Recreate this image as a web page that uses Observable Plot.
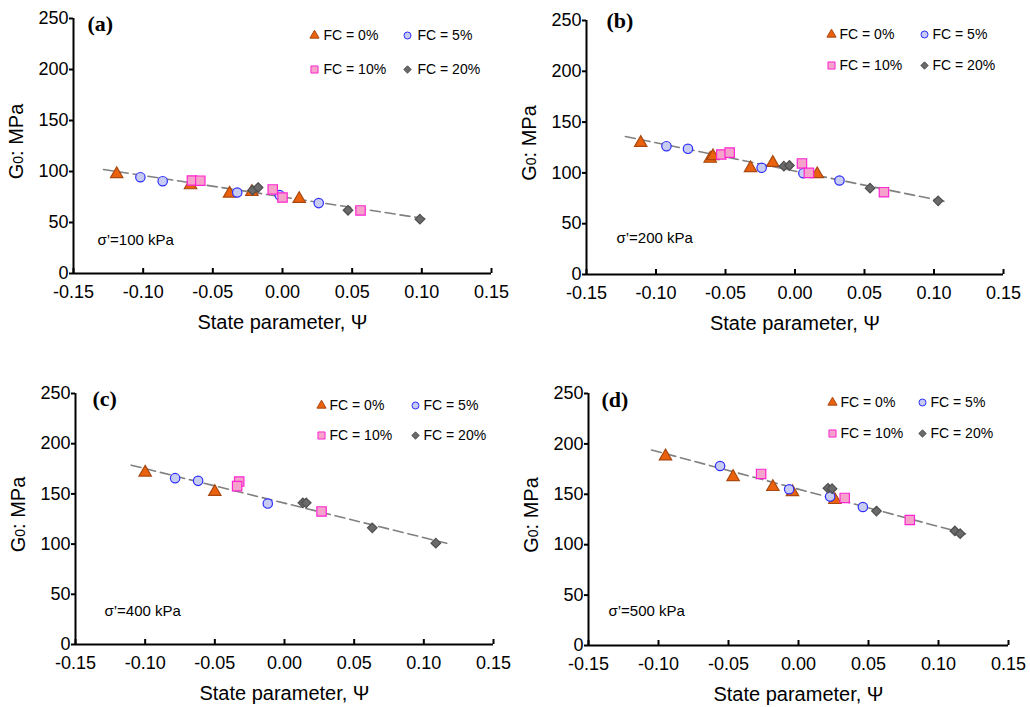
<!DOCTYPE html>
<html>
<head>
<meta charset="utf-8">
<script src="https://cdn.jsdelivr.net/npm/d3@7"></script>
<script src="https://cdn.jsdelivr.net/npm/@observablehq/plot@0.6"></script>
<style>
  body { margin: 0; background: #fff; }
  #wrap { position: relative; width: 1030px; height: 707px; background: #fff; font-family: "Liberation Sans", Arial, sans-serif; }
  .panel { position: absolute; }
</style>
</head>
<body>
<div id="wrap"></div>
<script>
// ---------- data (state parameter Ψ, G0 in MPa) ----------
const xTicks = [-0.15, -0.10, -0.05, 0.00, 0.05, 0.10, 0.15];
const yTicks = [0, 50, 100, 150, 200, 250];
const seriesNames = ["FC = 0%", "FC = 5%", "FC = 10%", "FC = 20%"];

// (a) σ'=100 kPa
const a_FC0 = [[-0.119, 97.5], [-0.066, 86.6], [-0.038, 78.4], [-0.022, 80.0], [0.012, 73.2]];
const a_FC5 = [[-0.102, 94.4], [-0.086, 90.5], [-0.0325, 79.4], [-0.002, 76.8], [0.026, 69.0]];
const a_FC10 = [[-0.065, 91.2], [-0.059, 91.0], [-0.007, 82.4], [0.000, 74.5], [0.056, 61.8]];
const a_FC20 = [[-0.0215, 81.7], [-0.0175, 84.3], [0.047, 62.0], [0.0986, 53.3]];
const a_fit = [[-0.1285, 102.0], [0.1045, 53.3]];

// (b) σ'=200 kPa
const b_FC0 = [[-0.111, 129.6], [-0.061, 114.0], [-0.059, 116.5], [-0.032, 104.7], [-0.016, 110.0], [0.016, 98.8]];
const b_FC5 = [[-0.0925, 126.3], [-0.077, 123.7], [-0.024, 105.0], [0.006, 99.7], [0.032, 92.5]];
const b_FC10 = [[-0.053, 118.1], [-0.047, 120.0], [0.005, 109.3], [0.010, 100.0], [0.064, 81.0]];
const b_FC20 = [[-0.008, 106.6], [-0.004, 107.3], [0.054, 85.0], [0.103, 72.5]];
const b_fit = [[-0.122, 135.8], [0.109, 71.5]];

// (c) σ'=400 kPa
const c_FC0 = [[-0.100, 171.3], [-0.050, 152.0]];
const c_FC5 = [[-0.0785, 165.7], [-0.062, 163.0], [-0.012, 140.4]];
const c_FC10 = [[-0.0325, 162.3], [-0.034, 157.7], [0.0266, 132.5]];
const c_FC20 = [[0.0132, 141.1], [0.0156, 141.1], [0.063, 116.2], [0.1086, 100.9]];
const c_fit = [[-0.110, 178.6], [0.119, 99.9]];

// (d) σ'=500 kPa
const d_FC0 = [[-0.095, 187.7], [-0.0467, 167.2], [-0.0183, 157.3], [-0.0043, 152.3], [0.026, 144.4]];
const d_FC5 = [[-0.056, 178.1], [-0.0067, 155.0], [0.0226, 147.7], [0.046, 137.4]];
const d_FC10 = [[-0.0267, 170.2], [0.033, 146.4], [0.0795, 124.5]];
const d_FC20 = [[0.021, 156.0], [0.024, 155.6], [0.0557, 133.4], [0.1117, 113.6], [0.1155, 110.9]];
const d_fit = [[-0.105, 194.0], [0.122, 109.9]];

const panelLabels = ["(a)", "(b)", "(c)", "(d)"];
const stressLabels = ["σ’=100 kPa", "σ’=200 kPa", "σ’=400 kPa", "σ’=500 kPa"];

// ---------- styles ----------
const styles = [
  {symbol: "triangle", fill: "#ea620e", stroke: "#a9470f", r: 4.6, lr: 3.4},
  {symbol: "circle", fill: "#c8ccf2", stroke: "#2d2dff", r: 4.7, lr: 3.5},
  {symbol: "square", fill: "#f5a3cb", stroke: "#ff25d2", r: 5.3, lr: 4.0},
  {symbol: "diamond2", fill: "#6a6a6a", stroke: "#4e4e4e", r: 4.3, lr: 3.3}
];

// ---------- layout ----------
const layout = [
  {left: 0,   top: 0,   ml: 73, mt: 18, pw: 418, ph: 255, leg: [241, 17, 334, 51, 250, 344], lab: [14, 5], sl: [24, 222]},
  {left: 515, top: 0,   ml: 71, mt: 20, pw: 417, ph: 254, leg: [245, 14, 338, 45, 253, 346], lab: [20, 0], sl: [30, 218]},
  {left: 0,   top: 375, ml: 75, mt: 18, pw: 418, ph: 251, leg: [246, 12, 340, 42, 254, 348], lab: [17, 5], sl: [29, 218]},
  {left: 515, top: 375, ml: 73, mt: 18, pw: 420, ph: 252, leg: [244, 9, 334, 40, 252, 342], lab: [13, 6], sl: [20, 218]}
];
const panelData = [
  [a_FC0, a_FC5, a_FC10, a_FC20, a_fit],
  [b_FC0, b_FC5, b_FC10, b_FC20, b_fit],
  [c_FC0, c_FC5, c_FC10, c_FC20, c_fit],
  [d_FC0, d_FC5, d_FC10, d_FC20, d_fit]
];

const FONT = "Liberation Sans, Arial, Helvetica, sans-serif";
const wrap = document.getElementById("wrap");

layout.forEach((L, i) => {
  const series = panelData[i].slice(0, 4);
  const fit = panelData[i][4];
  const mb = 72;
  const width = 515;
  const mr = width - L.ml - L.pw;
  const height = L.mt + L.ph + mb;
  const [ldx1, ldy1, ldx2, ldy2, tdx1, tdx2] = L.leg;

  const legendMarks = [];
  series.forEach((_, k) => {
    const s = styles[k];
    const mdx = (k % 2 === 0) ? ldx1 : ldx2;
    const tdx = (k % 2 === 0) ? tdx1 : tdx2;
    const mdy = (k < 2) ? ldy1 : ldy2;
    legendMarks.push(Plot.dot([seriesNames[k]], {
      frameAnchor: "top-left", dx: mdx, dy: mdy,
      symbol: () => s.symbol, r: s.lr, fill: s.fill, stroke: s.stroke, strokeWidth: 1
    }));
    legendMarks.push(Plot.text([seriesNames[k]], {
      frameAnchor: "top-left", dx: tdx, dy: mdy, text: d => d,
      textAnchor: "start", lineAnchor: "middle", fontSize: 14, fill: "#000", fontFamily: FONT
    }));
  });

  const dataMarks = series.map((pts, k) => {
    const s = styles[k];
    return Plot.dot(pts, {
      x: d => d[0], y: d => d[1],
      symbol: () => s.symbol, r: s.r, fill: s.fill, stroke: s.stroke, strokeWidth: 1.2
    });
  });

  const svg = Plot.plot({
    width, height,
    marginLeft: L.ml, marginRight: mr, marginTop: L.mt, marginBottom: mb,
    style: {fontFamily: FONT, fontSize: "18px", background: "transparent", color: "#000", overflow: "visible"},
    x: {domain: [-0.15, 0.15], label: null},
    y: {domain: [0, 250], label: null},
    marks: [
      Plot.line(fit, {x: d => d[0], y: d => d[1], stroke: "#808080", strokeWidth: 1.6, strokeDasharray: "10,5"}),
      ...dataMarks,
      Plot.axisY({ticks: yTicks, tickSize: 4, tickPadding: 1, strokeWidth: 2, fontSize: 18, label: null, tickFormat: d => String(d)}),
      Plot.axisX({ticks: xTicks, tickSize: -5, strokeWidth: 2, label: null, tickFormat: () => ""}),
      Plot.axisX({ticks: xTicks, tickSize: 0, tickPadding: 12, fontSize: 18, label: null, tickFormat: d => d.toFixed(2)}),
      Plot.ruleX([-0.15], {stroke: "#000", strokeWidth: 2}),
      Plot.ruleY([0], {stroke: "#000", strokeWidth: 2}),
      ...legendMarks,
      Plot.text([panelLabels[i]], {
        frameAnchor: "top-left", dx: L.lab[0], dy: L.lab[1], text: d => d,
        textAnchor: "start", lineAnchor: "middle",
        fontFamily: "Liberation Serif, Times New Roman, serif", fontWeight: "bold", fontSize: 22, fill: "#000"
      }),
      Plot.text([stressLabels[i]], {
        frameAnchor: "top-left", dx: L.sl[0], dy: L.sl[1], text: d => d,
        textAnchor: "start", lineAnchor: "middle", fontSize: 15, fill: "#000", fontFamily: FONT
      }),
      Plot.text(["State parameter, Ψ"], {
        frameAnchor: "bottom", dy: 49, text: d => d, lineAnchor: "middle",
        fontSize: 20, fill: "#000", fontFamily: FONT
      })
    ]
  });

  // y-axis label with subscript
  const t = d3.select(svg).append("text")
    .attr("transform", `translate(${L.ml - 57},${L.mt + L.ph / 2 - 4}) rotate(-90)`)
    .attr("text-anchor", "middle")
    .attr("dominant-baseline", "central")
    .attr("font-family", FONT)
    .attr("font-size", 20)
    .attr("fill", "#000");
  t.append("tspan").text("G");
  t.append("tspan").attr("font-size", 14).attr("dy", 2).text("0");
  t.append("tspan").attr("dy", -2).text(": MPa");

  const div = document.createElement("div");
  div.className = "panel";
  div.style.left = L.left + "px";
  div.style.top = L.top + "px";
  div.appendChild(svg);
  wrap.appendChild(div);
});
</script>
</body>
</html>
